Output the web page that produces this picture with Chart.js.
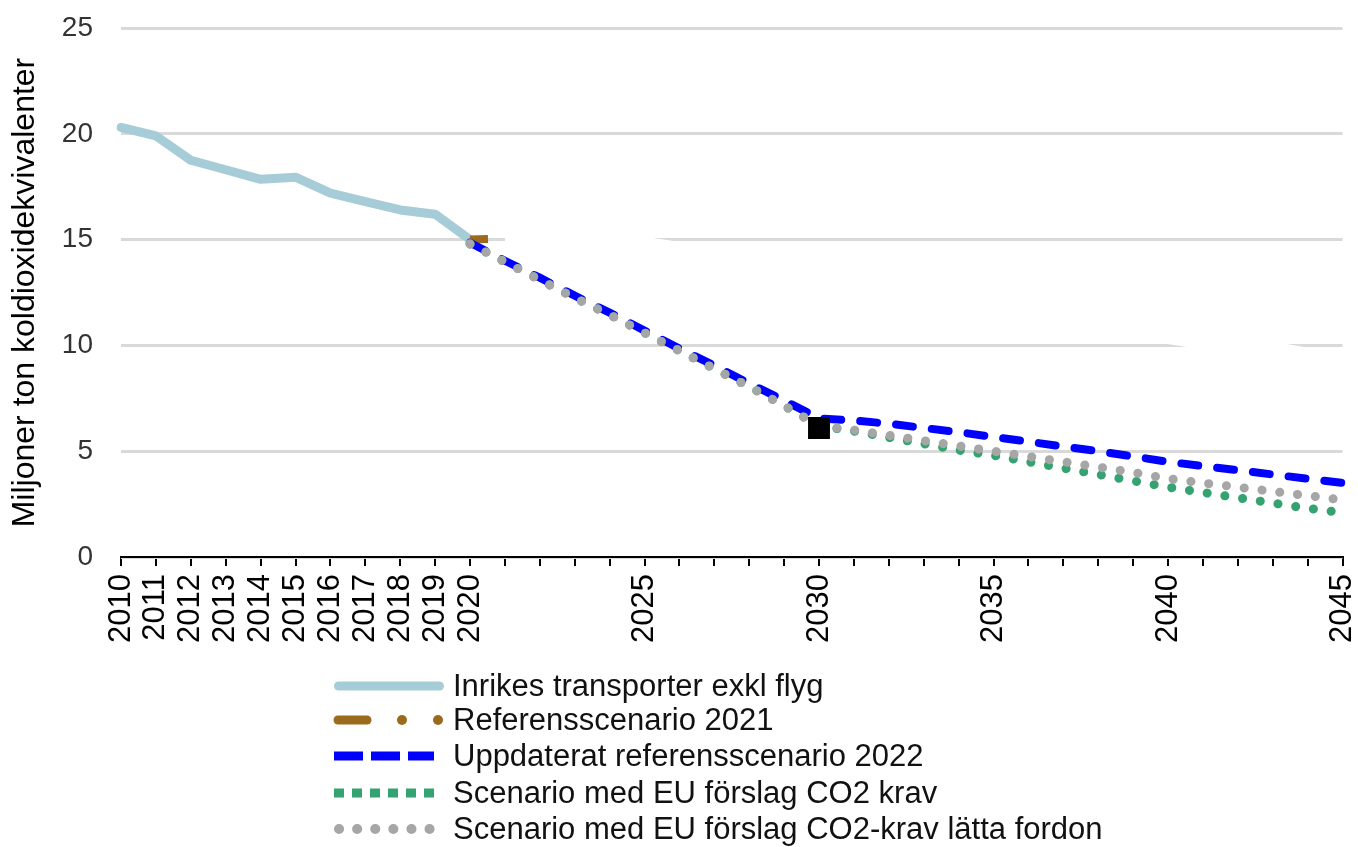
<!DOCTYPE html>
<html lang="sv">
<head>
<meta charset="utf-8">
<title>Inrikes transporter</title>
<script src="https://cdn.jsdelivr.net/npm/chart.js@4.4.1/dist/chart.umd.min.js"></script>
<style>
  body { margin: 0; background: #fff; }
  #ram { position: relative; width: 1358px; height: 847px; overflow: hidden; }
  #diagram { position: absolute; left: 0; top: 0; }
  .rad { position: absolute; left: 330px; height: 36px; font: 31px "Liberation Sans", Arial, sans-serif; color: #111; white-space: nowrap; }
  .rad svg { position: absolute; left: 0; top: 8px; }
  .rad span { position: absolute; left: 123px; top: 0; line-height: 36px; }
</style>
</head>
<body>
<div id="ram">
  <canvas id="diagram" width="1358" height="847"></canvas>
  <div class="rad" style="top:668px">
    <svg width="120" height="20"><line x1="8.5" y1="10" x2="109.5" y2="10" stroke="#a6ccd8" stroke-width="9" stroke-linecap="round"/></svg>
    <span>Inrikes transporter exkl flyg</span>
  </div>
  <div class="rad" style="top:702px">
    <svg width="120" height="20"><line x1="8" y1="10" x2="37" y2="10" stroke="#9b6a1c" stroke-width="9" stroke-linecap="round"/><circle cx="72" cy="10" r="5" fill="#9b6a1c"/><circle cx="108" cy="10" r="5" fill="#9b6a1c"/></svg>
    <span>Referensscenario 2021</span>
  </div>
  <div class="rad" style="top:738px">
    <svg width="120" height="20"><line x1="4" y1="10" x2="104" y2="10" stroke="#0000ff" stroke-width="9" stroke-dasharray="29 8"/></svg>
    <span>Uppdaterat referensscenario 2022</span>
  </div>
  <div class="rad" style="top:775px">
    <svg width="120" height="20"><line x1="4" y1="10" x2="104" y2="10" stroke="#35a371" stroke-width="9" stroke-dasharray="10 8"/></svg>
    <span>Scenario med EU förslag CO2 krav</span>
  </div>
  <div class="rad" style="top:811px">
    <svg width="120" height="20"><line x1="9" y1="10" x2="100" y2="10" stroke="#a6a6a6" stroke-width="10" stroke-linecap="round" stroke-dasharray="0.1 18"/></svg>
    <span>Scenario med EU förslag CO2-krav lätta fordon</span>
  </div>
</div>

<script>
// Årtal på x-axeln
const ar = [2010, 2011, 2012, 2013, 2014, 2015, 2016, 2017, 2018, 2019, 2020,
  2021, 2022, 2023, 2024, 2025, 2026, 2027, 2028, 2029, 2030,
  2031, 2032, 2033, 2034, 2035, 2036, 2037, 2038, 2039, 2040,
  2041, 2042, 2043, 2044, 2045];
const visadeAr = [2010, 2011, 2012, 2013, 2014, 2015, 2016, 2017, 2018, 2019, 2020,
  2025, 2030, 2035, 2040, 2045];
const yTicks = [0, 5, 10, 15, 20, 25];

// Historik 2010-2020
const historik = [20.3, 19.9, 18.75, 18.3, 17.85, 17.95, 17.2, 16.8, 16.4, 16.2, 15.0];

// Scenarier 2020-2045
const referens2021 = [15.0, 15.05, 15.05, 15.0, 15.0, 14.95, 14.7, 14.3, 13.9, 13.5, 13.1,
  12.7, 12.35, 12.0, 11.7, 11.4, 11.1, 10.85, 10.6, 10.4, 10.25,
  10.0, 10.0, 10.0, 9.7, 9.5];
const referens2022 = [14.85, 14.0, 13.2, 12.35, 11.55, 10.7, 9.85, 9.05, 8.2, 7.4, 6.55,
  6.45, 6.3, 6.1, 5.9, 5.67, 5.45, 5.22, 5.0, 4.75, 4.5,
  4.3, 4.1, 3.9, 3.7, 3.5];
const euCo2 = [14.8, 13.95, 13.1, 12.25, 11.45, 10.6, 9.75, 8.9, 8.05, 7.15, 6.2,
  5.95, 5.65, 5.35, 5.05, 4.8, 4.5, 4.2, 3.9, 3.6, 3.3,
  3.05, 2.8, 2.55, 2.3, 2.1];
const euCo2Latta = [14.8, 13.95, 13.1, 12.25, 11.45, 10.6, 9.75, 8.9, 8.05, 7.15, 6.2,
  6.0, 5.75, 5.5, 5.25, 5.0, 4.75, 4.5, 4.25, 4.0, 3.7,
  3.5, 3.3, 3.1, 2.9, 2.7];

// Målpunkt 2030
const malAr = 2030;
const malVarde = 6.1;

// Lägg serierna på rätt årtal
function tillAr(varden, startAr) {
  return ar.map(a => {
    const i = a - startAr;
    return i >= 0 && i < varden.length ? varden[i] : null;
  });
}

const brun = "#9b6a1c";
const typsnitt = "'Liberation Sans', Arial, sans-serif";

new Chart(document.getElementById("diagram"), {
  type: "line",
  data: {
    labels: ar,
    datasets: [
      {
        label: "Mål",
        data: ar.map(a => a === malAr ? malVarde : null),
        showLine: false,
        pointStyle: "rect",
        pointRadius: 15.5,
        pointBackgroundColor: "#000",
        pointBorderWidth: 0,
        order: 0
      },
      {
        label: "Scenario med EU förslag CO2-krav lätta fordon",
        data: tillAr(euCo2Latta, 2020),
        borderColor: "#a6a6a6",
        borderWidth: 9,
        borderCapStyle: "round",
        borderDash: [0.1, 17.8],
        order: 1
      },
      {
        label: "Scenario med EU förslag CO2 krav",
        data: tillAr(euCo2, 2020),
        borderColor: "#35a371",
        borderWidth: 9,
        borderCapStyle: "round",
        borderDash: [0.1, 17.8],
        order: 2
      },
      {
        label: "Uppdaterat referensscenario 2022",
        data: tillAr(referens2022, 2020),
        borderColor: "#0000ff",
        borderWidth: 8,
        borderCapStyle: "round",
        borderDash: [17, 19],
        order: 3
      },
      {
        label: "Referensscenario 2021",
        data: tillAr(referens2021, 2020),
        borderColor: "#ffffff",
        borderWidth: 8,
        segment: {
          borderColor: c => c.p0DataIndex === 10 ? brun : "#ffffff",
          borderDash: c => c.p0DataIndex === 10 ? [18, 40] : undefined
        },
        order: 4
      },
      {
        label: "Inrikes transporter exkl flyg",
        data: tillAr(historik, 2010),
        borderColor: "#a6ccd8",
        borderWidth: 9,
        borderCapStyle: "round",
        borderJoinStyle: "round",
        order: 5
      }
    ]
  },
  options: {
    responsive: false,
    animation: false,
    devicePixelRatio: 1,
    layout: { padding: { left: 6, right: 15, top: 28, bottom: 0 } },
    elements: { point: { radius: 0 }, line: { tension: 0 } },
    plugins: { legend: { display: false }, tooltip: { enabled: false } },
    scales: {
      x: {
        grid: { display: true, drawOnChartArea: false, drawTicks: true, tickLength: 9, color: "#000", lineWidth: 2 },
        border: { display: true, color: "#000", width: 2 },
        ticks: {
          autoSkip: false,
          maxRotation: 90,
          minRotation: 90,
          padding: 8,
          color: "#000",
          font: { size: 31, family: typsnitt },
          callback: (v, i) => visadeAr.includes(ar[i]) ? String(ar[i]) : ""
        },
        afterFit: s => {
          s.height = 290;
          s.paddingLeft = 0;
          s.paddingRight = 0;
        }
      },
      y: {
        min: 0,
        max: 25,
        afterBuildTicks: s => { s.ticks = yTicks.map(v => ({ value: v })); },
        ticks: { padding: 28, color: "#333", font: { size: 28, family: typsnitt } },
        grid: { color: "#d9d9d9", lineWidth: 3, drawTicks: false },
        border: { display: false },
        title: {
          display: true,
          text: "Miljoner ton koldioxidekvivalenter",
          color: "#000",
          font: { size: 32, family: typsnitt },
          padding: { top: 0, bottom: 0 }
        },
        afterFit: s => {
          s.width = 115;
          s.paddingTop = 0;
          s.paddingBottom = 0;
        }
      }
    }
  }
});
</script>
</body>
</html>
